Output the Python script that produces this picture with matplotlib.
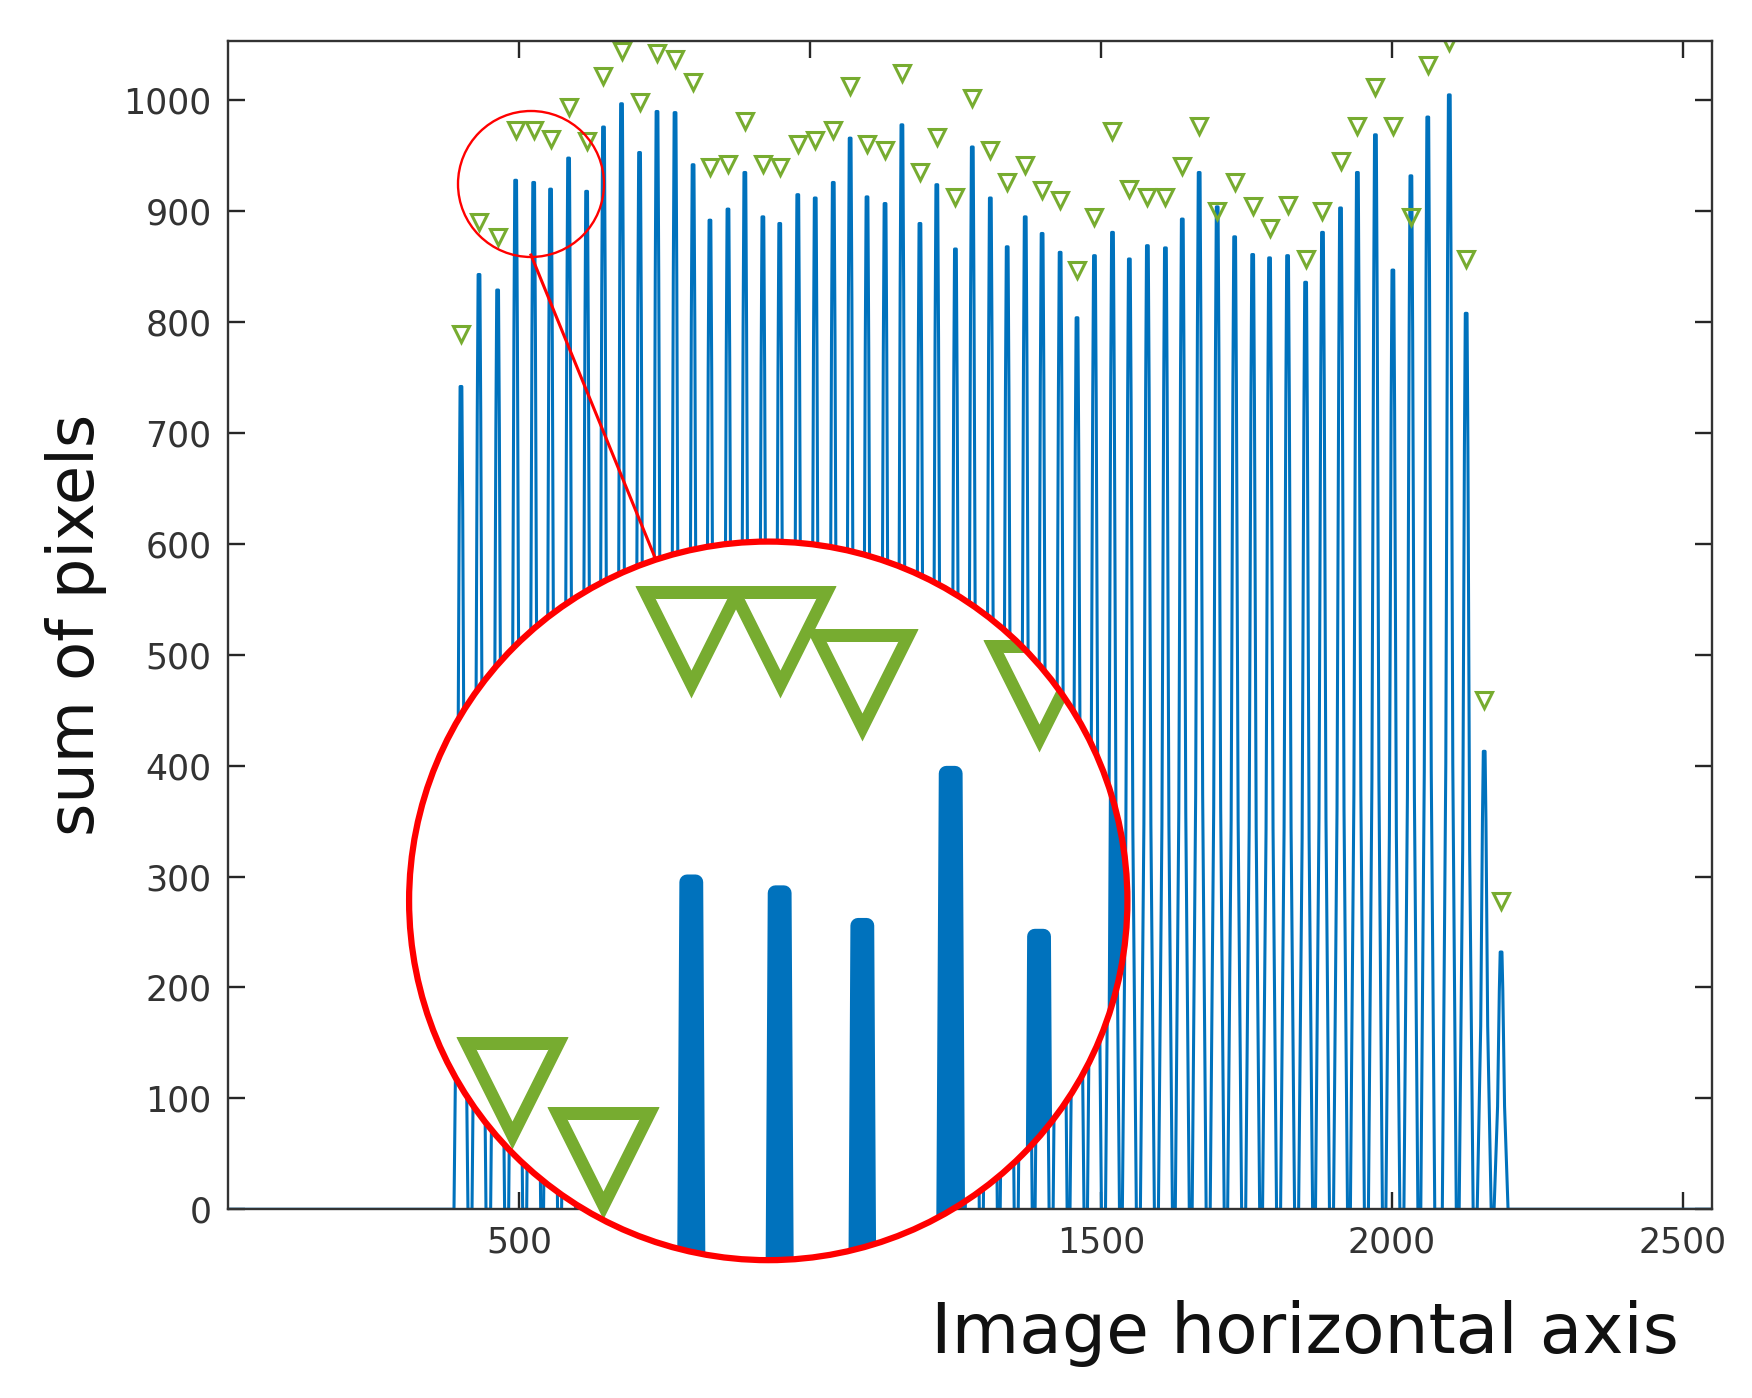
import numpy as np
import matplotlib
matplotlib.use("Agg")
import matplotlib.pyplot as plt
from matplotlib.patches import Circle

peak_x = [400, 431, 463, 494, 525, 554, 585, 616, 645, 676, 707, 737, 768, 799, 828, 859, 888, 919, 948, 979,
          1009, 1040, 1069, 1098, 1129, 1158, 1189, 1218, 1250, 1279, 1310, 1339, 1370, 1399, 1430, 1459, 1489, 1520, 1549, 1580,
          1611, 1640, 1669, 1700, 1730, 1761, 1790, 1821, 1852, 1881, 1912, 1941, 1972, 2002, 2033, 2062, 2099, 2128, 2159, 2188]
peak_h = [742, 843, 829, 928, 926, 920, 948, 918, 976, 997, 953, 990, 989, 942, 892, 902, 935, 895, 889, 915,
          912, 926, 966, 913, 907, 978, 889, 924, 866, 958, 912, 868, 895, 880, 863, 804, 860, 881, 857, 869,
          867, 893, 935, 904, 877, 861, 858, 860, 836, 881, 903, 935, 969, 847, 932, 985, 1005, 808, 413, 232]
marker_y = [789, 890, 877, 973, 973, 965, 994, 963, 1022, 1045, 999, 1043, 1037, 1017, 940, 943, 981, 943, 940, 961,
            964, 973, 1013, 961, 955, 1025, 935, 967, 913, 1002, 955, 926, 942, 919, 910, 847, 895, 972, 920, 913,
            913, 941, 977, 900, 926, 905, 885, 906, 857, 900, 945, 977, 1012, 977, 895, 1032, 1053, 857, 459, 278]

# build line vertices from peaks
xs, ys = [0], [0]
for c, h in zip(peak_x, peak_h):
    xs += [c - 12, c - 6, c - 3, c - 1.5, c + 1.5, c + 3, c + 6, c + 12]
    ys += [0, 0.4 * h, 0.85 * h, h, h, 0.85 * h, 0.4 * h, 0]
xs += [2550]; ys += [0]

blue = '#0072BD'
green = '#77AC30'
fig = plt.figure(figsize=(17.52, 13.98), dpi=100)
ax = fig.add_axes([0.1303, 0.135, 0.847, 0.836])
ax.plot(xs, ys, color=blue, lw=2.2)
ax.plot(peak_x, marker_y, linestyle='none', marker='v', mfc='none', mec=green, mew=2.2, ms=11)
ax.set_xlim(0, 2551)
ax.set_ylim(0, 1054)
ax.set_xticks([500, 1000, 1500, 2000, 2500])
ax.set_yticks(range(0, 1001, 100))
ax.tick_params(direction='in', top=True, right=True, length=12, width=1.7, labelsize=25,
               colors='#262626', labelcolor='#333333', pad=12)
for s in ax.spines.values():
    s.set_color('#333333'); s.set_linewidth(1.7)
ax.set_ylabel('sum of pixels', fontsize=46, color='#111111', labelpad=12)
fig.text(0.958, 0.046, 'Image horizontal axis', fontsize=50, ha='right', va='center', color='#111111')

# small circle in main axes (figure pixel coords)
fig.patches.append(Circle((531, 1398 - 184), 73, transform=None, fill=False, ec='red', lw=1.7, zorder=5))
fig.lines.append(plt.Line2D([531, 656], [1398 - 255, 1398 - 560], transform=None, color='red', lw=2.2, zorder=5))

# inset zoom
ins = fig.add_axes([0.2335, 0.0986, 0.410, 0.514])
ins.set_zorder(10)
ins.set_xlim(395, 647)
ins.set_ylim(858.4, 990.7)
ins.axis('off')
ins.add_patch(Circle((0.5, 0.5), 0.5, transform=ins.transAxes, fc='white', ec='none', zorder=0))
clip = Circle((0.5, 0.5), 0.5, transform=ins.transAxes)
l1, = ins.plot(xs, ys, color=blue, lw=11, zorder=2)
l2, = ins.plot(peak_x, marker_y, linestyle='none', marker='v', mfc='none', mec=green, mew=9, ms=66, zorder=3)
l1.set_clip_path(clip); l2.set_clip_path(clip)
ins.add_patch(Circle((0.5, 0.5), 0.5, transform=ins.transAxes, fill=False, ec='red', lw=4.5, zorder=4, clip_on=False))

fig.savefig('out.png', dpi=100)
